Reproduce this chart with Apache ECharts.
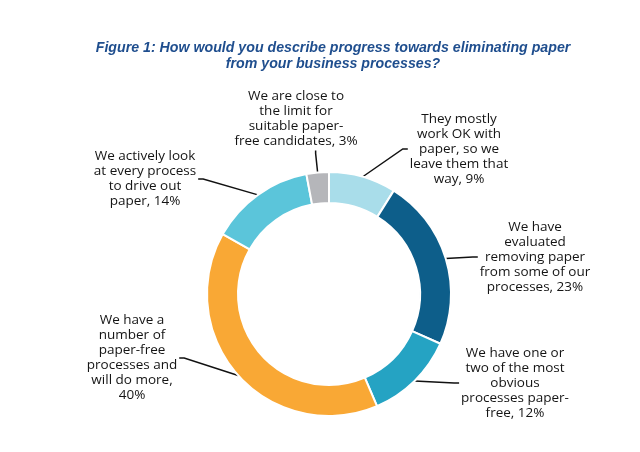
<!DOCTYPE html>
<html>
<head>
<meta charset="utf-8">
<script src="https://cdn.jsdelivr.net/npm/echarts@6/dist/echarts.min.js"></script>
<style>
html,body{margin:0;padding:0;background:#fff;}
#chart{width:640px;height:452px;}
</style>
</head>
<body>
<div id="chart"></div>
<script>
// ---- data ----
const titleLines = [
  'Figure 1: How would you describe progress towards eliminating paper',
  'from your business processes?'
];
const categories = [
  'They mostly\nwork OK with\npaper, so we\nleave them that\nway',
  'We have\nevaluated\nremoving paper\nfrom some of our\nprocesses',
  'We have one or\ntwo of the most\nobvious\nprocesses paper-\nfree',
  'We have a\nnumber of\npaper-free\nprocesses and\nwill do more',
  'We actively look\nat every process\nto drive out\npaper',
  'We are close to\nthe limit for\nsuitable paper-\nfree candidates'
];
const values = [9, 23, 12, 40, 14, 3];
const valueOnNewLine = [false, false, false, true, false, false];
const colors = ['#A9DDEA', '#0D5E8A', '#25A3C3', '#F9A835', '#5BC5DA', '#B5B6BA'];

// ---- label layout (block centre relative to pie centre, side) ----
const CX = 329, CY = 294;
const labelPlace = [
  {dx: 130, dy: -145, side: 'right'},
  {dx: 206, dy: -37, side: 'right'},
  {dx: 186, dy: 89, side: 'right'},
  {dx: -197, dy: 64, side: 'left'},
  {dx: -184, dy: -115, side: 'left'},
  {dx: -33, dy: -175, side: 'top'}
];

const chart = echarts.init(document.getElementById('chart'));
const font = '"Open Sans", sans-serif';

chart.setOption({
  animation: false,
  title: {
    text: titleLines.join('\n'),
    left: 328,
    top: 35,
    textAlign: 'center',
    textStyle: {
      fontFamily: '"Liberation Sans", Arial, sans-serif',
      fontStyle: 'italic',
      fontWeight: 'bold',
      fontSize: 14.2,
      lineHeight: 16,
      color: '#1F4E8E'
    }
  },
  series: [{
    type: 'pie',
    center: [CX, CY],
    radius: [91, 122],
    startAngle: 90,
    clockwise: true,
    avoidLabelOverlap: false,
    itemStyle: {borderColor: '#ffffff', borderWidth: 2},
    emphasis: {disabled: true},
    data: categories.map((c, i) => ({
      name: c,
      value: values[i],
      itemStyle: {color: colors[i]}
    })),
    label: {
      show: true,
      position: 'outside',
      formatter: (p) => {
        const i = p.dataIndex;
        const txt = categories[i] + (valueOnNewLine[i] ? ',\n' : ', ') + values[i] + '%';
        return txt.split('\n').map(s => '{c|' + s + '}').join('\n');
      },
      rich: {
        c: {
          align: 'center',
          fontFamily: font,
          fontSize: 13.5,
          lineHeight: 15,
          color: '#141414'
        }
      }
    },
    labelLine: {
      show: true,
      length: 15,
      length2: 8,
      lineStyle: {color: '#111111', width: 1.5}
    },
    labelLayout: (params) => {
      const i = params.dataIndex;
      const pl = labelPlace[i];
      const w = params.labelRect.width;
      const h = params.labelRect.height;
      const bx = CX + pl.dx, by = CY + pl.dy;
      const start = params.labelLinePoints ? params.labelLinePoints[0] : [bx, by];
      if (pl.side === 'right') {
        const x = bx - w / 2;
        return {x: x, y: by, align: 'left', verticalAlign: 'middle',
          labelLinePoints: [start, [x - 7, by], [x - 2, by]]};
      } else if (pl.side === 'left') {
        const x = bx + w / 2;
        return {x: x, y: by, align: 'right', verticalAlign: 'middle',
          labelLinePoints: [start, [x + 7, by], [x + 2, by]]};
      } else {
        const ey = by + h / 2 + 2;
        return {x: bx, y: by, align: 'center', verticalAlign: 'middle',
          labelLinePoints: [start, [start[0] - 2, ey + 3], [start[0] - 2, ey]]};
      }
    }
  }]
});
</script>
</body>
</html>
